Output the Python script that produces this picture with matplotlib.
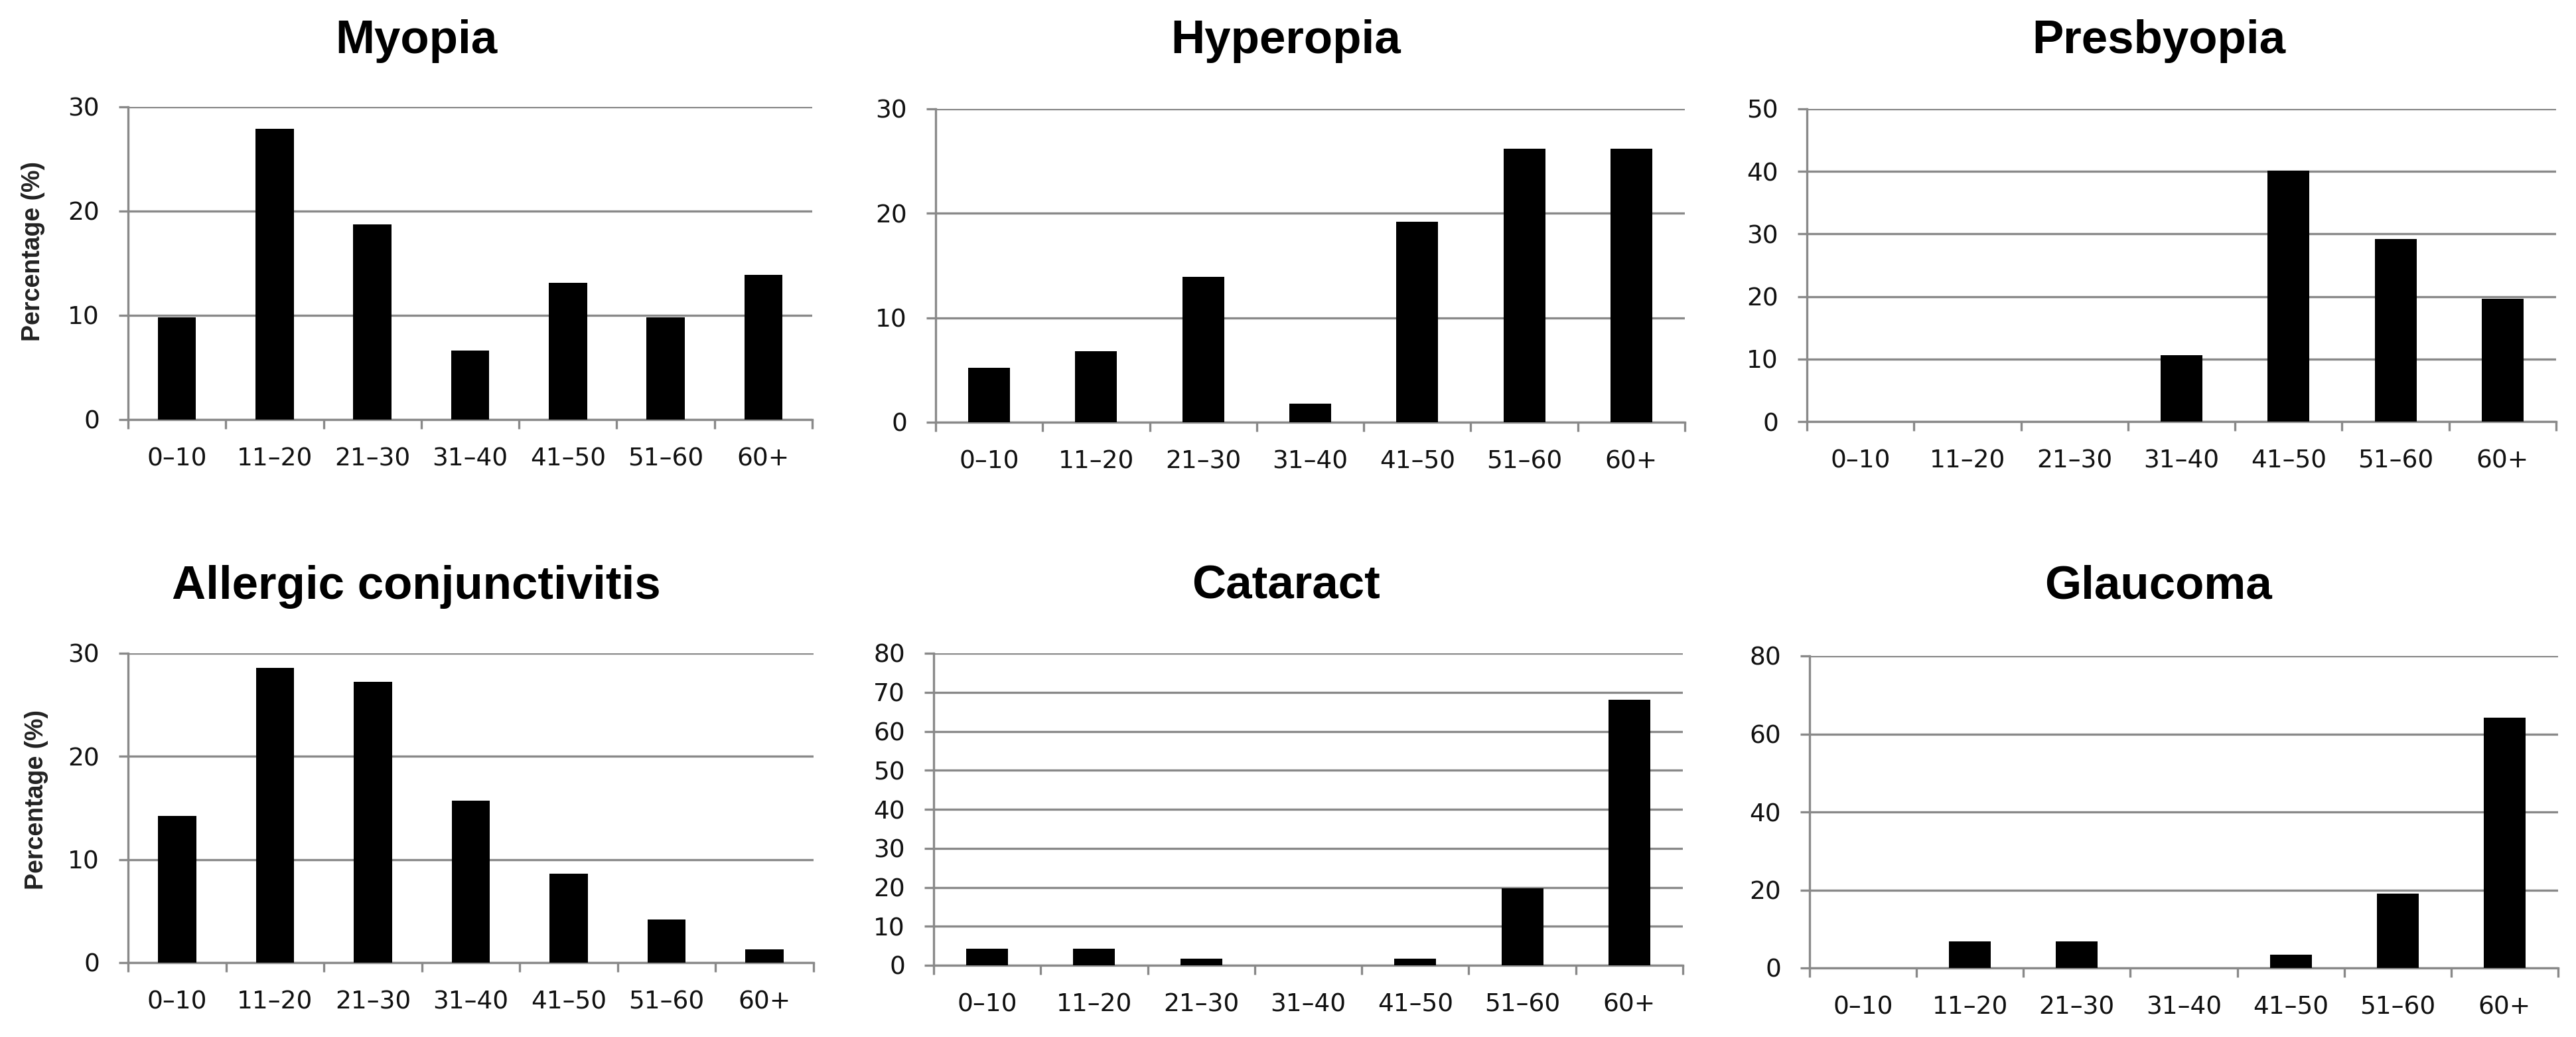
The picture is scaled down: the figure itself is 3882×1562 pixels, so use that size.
import matplotlib
matplotlib.use("Agg")
import matplotlib.pyplot as plt
import numpy as np

categories = ['0–10', '11–20', '21–30', '31–40', '41–50', '51–60', '60+']

myopia = [9.8, 27.9, 18.7, 6.6, 13.1, 9.8, 13.9]
hyperopia = [5.2, 6.8, 13.9, 1.8, 19.2, 26.2, 26.2]
presbyopia = [0, 0, 0, 10.6, 40.1, 29.2, 19.6]
allergic = [14.2, 28.6, 27.2, 15.7, 8.6, 4.2, 1.3]
cataract = [4.2, 4.2, 1.7, 0, 1.7, 19.8, 68.1]
glaucoma = [0, 6.8, 6.8, 0, 3.4, 19.0, 64.2]

titles = ['Myopia', 'Hyperopia', 'Presbyopia',
          'Allergic conjunctivitis', 'Cataract', 'Glaucoma']
series = [myopia, hyperopia, presbyopia, allergic, cataract, glaucoma]
ymax = [30, 30, 50, 30, 80, 80]
ystep = [10, 10, 10, 10, 10, 20]

W, H = 3882, 1562
DPI = 100
fig = plt.figure(figsize=(W / DPI, H / DPI), dpi=DPI)

# pixel boxes (left, right, top, bottom) of each plot area
boxes = [(193, 1224, 161, 632), (1410, 2539, 164, 636), (2723, 3852, 164, 635),
         (193, 1226, 984, 1450), (1407, 2536, 984, 1454), (2727, 3855, 988, 1458)]
title_cx = [627, 1938, 3253]
title_base = [80, 902]

grey = '#898989'
lw = 2.4

for i, (title, vals) in enumerate(zip(titles, series)):
    r, c = divmod(i, 3)
    x0, x1, yt, yb = boxes[i]
    ax = fig.add_axes([x0 / W, 1 - yb / H, (x1 - x0) / W, (yb - yt) / H])
    x = np.arange(len(categories))
    ax.bar(x, vals, width=0.39, color='black', zorder=3)
    ax.set_xlim(-0.5, len(categories) - 0.5)
    ax.set_ylim(0, ymax[i])
    ax.set_yticks(np.arange(0, ymax[i] + 1, ystep[i]))
    ax.yaxis.grid(True, color=grey, lw=lw, zorder=0)
    ax.set_axisbelow(True)
    for s in ['top', 'right']:
        ax.spines[s].set_visible(False)
    for s in ['left', 'bottom']:
        ax.spines[s].set_color(grey)
        ax.spines[s].set_linewidth(lw)
    ax.set_xticks(x)
    ax.set_xticklabels(categories, fontsize=27, family='DejaVu Sans', color='#111111')
    ax.set_xticks(np.arange(-0.5, len(categories)), minor=True)
    ax.tick_params(axis='x', which='major', length=0, pad=30)
    ax.tick_params(axis='x', which='minor', length=10, width=lw, color=grey, direction='out')
    ax.tick_params(axis='y', length=10, width=lw, color=grey, direction='out', pad=21,
                   labelsize=27, labelcolor='#111111')
    for lab in ax.get_yticklabels():
        lab.set_family('DejaVu Sans')
    fig.text(title_cx[c] / W, 1 - title_base[r] / H, title, ha='center', va='baseline',
             fontsize=51, fontweight='bold', family='Liberation Sans')

fig.text(50 / W, 1 - 378 / H, 'Percentage (%)', rotation=90, ha='center', va='center',
         fontsize=27, fontweight='bold', family='Liberation Sans', color='#222222')
fig.text(55 / W, 1 - 1205 / H, 'Percentage (%)', rotation=90, ha='center', va='center',
         fontsize=27, fontweight='bold', family='Liberation Sans', color='#222222')

fig.savefig('out.png', dpi=DPI, facecolor='white')
